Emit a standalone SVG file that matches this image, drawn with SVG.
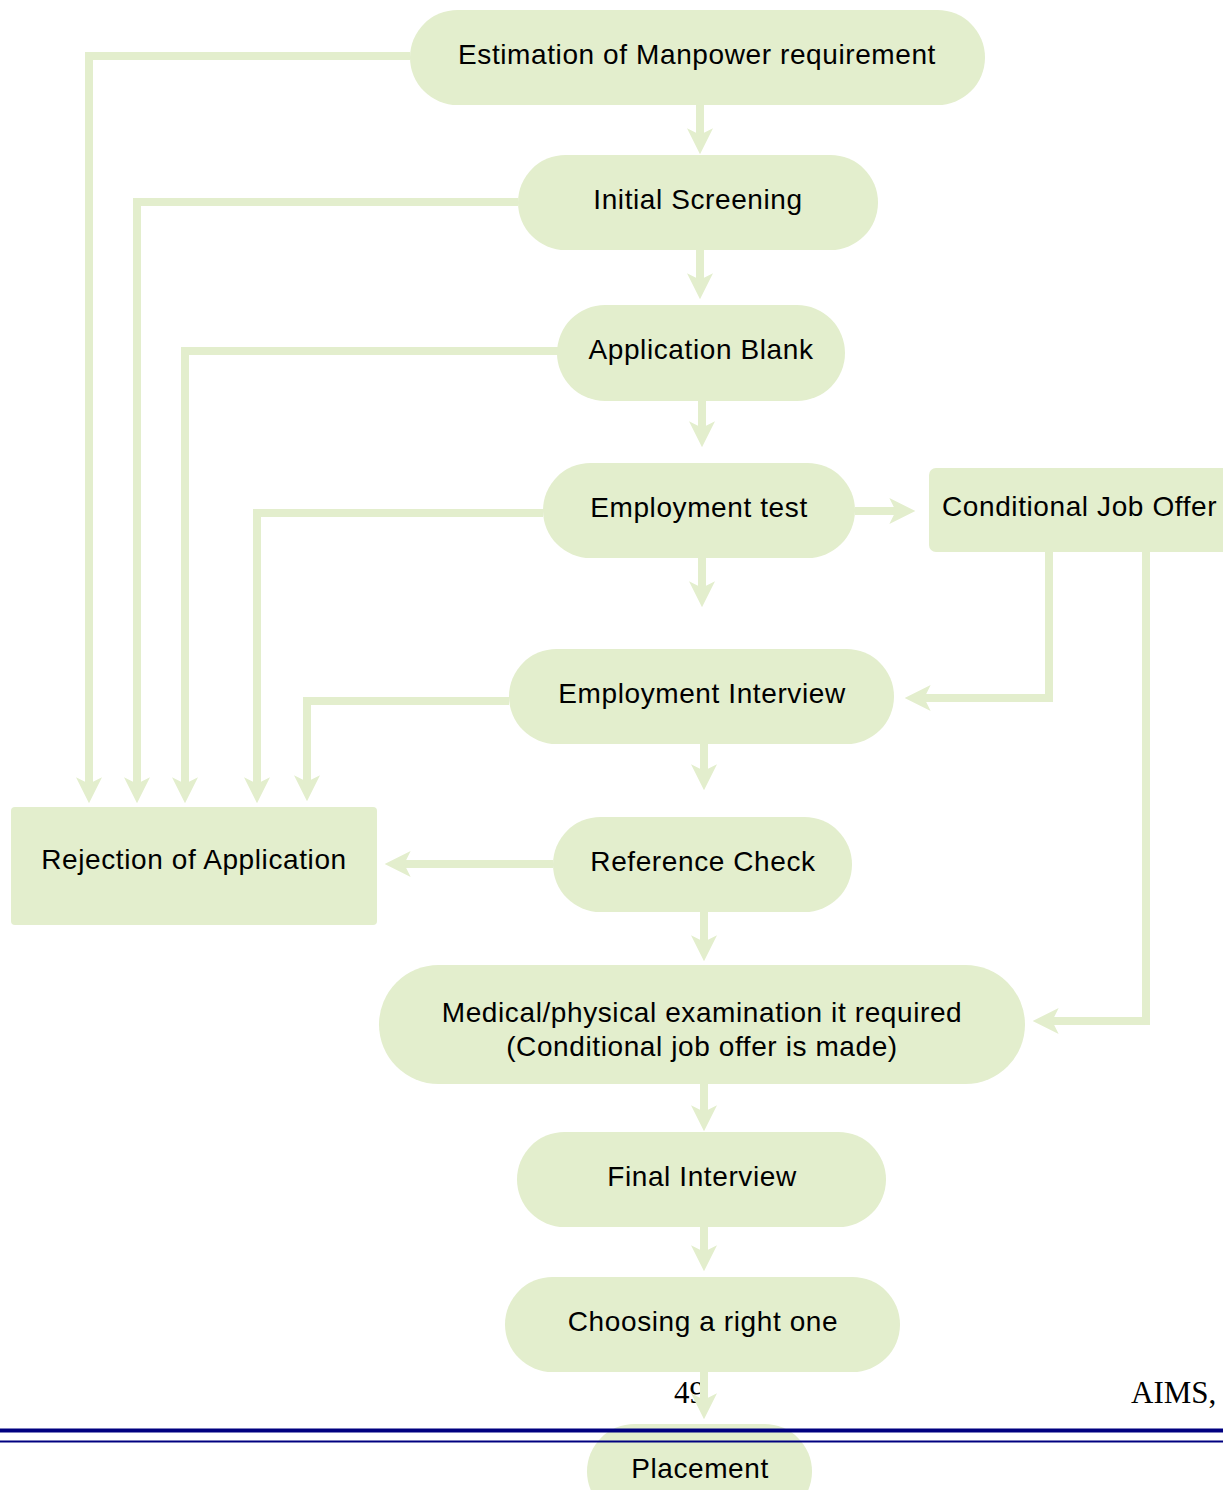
<svg xmlns="http://www.w3.org/2000/svg" width="1223" height="1490" viewBox="0 0 1223 1490">
  <style>
    .node { fill: #e3eecd; }
    .label { font-family: "Liberation Sans", Arial, sans-serif; font-size: 28px; letter-spacing: 0.6px; fill: #000; text-anchor: middle; }
    .flow { fill: none; stroke: #e3eecd; stroke-width: 8; stroke-linejoin: miter; marker-end: url(#head); }
    .page { font-family: "Liberation Serif", "Times New Roman", serif; font-size: 31px; fill: #000; }
    .rule { stroke: #000080; }
  </style>
  <defs>
    <!-- notched arrowhead; the line ends 16px before the tip -->
    <marker id="head" markerUnits="userSpaceOnUse" markerWidth="26" markerHeight="26" viewBox="0 0 24 24" refX="8" refY="12" orient="auto" overflow="visible">
      <path d="M0,0 L24,12 L0,24 L6,12 Z" fill="#e3eecd"/>
    </marker>
  </defs>

  <rect width="1223" height="1490" fill="#fff"/>

  <!-- footer page number sits beneath the connectors -->
  <text class="page" x="674" y="1403">49</text>
  <text class="page" x="1131" y="1403">AIMS,</text>

  <g id="node-estimation">
    <rect class="node" x="410" y="10" width="575" height="95" rx="47.5"/>
    <text class="label" x="697" y="64">Estimation of Manpower requirement</text>
  </g>
  <g id="node-initial-screening">
    <rect class="node" x="518" y="155" width="360" height="95" rx="47.5"/>
    <text class="label" x="698" y="209">Initial Screening</text>
  </g>
  <g id="node-application-blank">
    <rect class="node" x="557" y="305" width="288" height="96" rx="48"/>
    <text class="label" x="701" y="359">Application Blank</text>
  </g>
  <g id="node-employment-test">
    <rect class="node" x="543" y="463" width="312" height="95" rx="47.5"/>
    <text class="label" x="699" y="517">Employment test</text>
  </g>
  <g id="node-conditional-offer">
    <rect class="node" x="929" y="468" width="300" height="84" rx="7"/>
    <text class="label" x="942" y="516" style="text-anchor:start">Conditional Job Offer</text>
  </g>
  <g id="node-employment-interview">
    <rect class="node" x="509" y="649" width="385" height="95" rx="47.5"/>
    <text class="label" x="702" y="703">Employment Interview</text>
  </g>
  <g id="node-rejection">
    <rect class="node" x="11" y="807" width="366" height="118" rx="4"/>
    <text class="label" x="194" y="869">Rejection of Application</text>
  </g>
  <g id="node-reference-check">
    <rect class="node" x="553" y="817" width="299" height="95" rx="47.5"/>
    <text class="label" x="703" y="871">Reference Check</text>
  </g>
  <g id="node-medical">
    <rect class="node" x="379" y="965" width="646" height="119" rx="59.5"/>
    <text class="label" x="702" y="1022">Medical/physical examination it required</text>
    <text class="label" x="702" y="1056">(Conditional job offer is made)</text>
  </g>
  <g id="node-final-interview">
    <rect class="node" x="517" y="1132" width="369" height="95" rx="47.5"/>
    <text class="label" x="702" y="1186">Final Interview</text>
  </g>
  <g id="node-choosing">
    <rect class="node" x="505" y="1277" width="395" height="95" rx="47.5"/>
    <text class="label" x="703" y="1331">Choosing a right one</text>
  </g>
  <g id="node-placement">
    <rect class="node" x="587" y="1424" width="225" height="95" rx="47.5"/>
    <text class="label" x="700" y="1478">Placement</text>
  </g>

  <g id="connectors">
    <!-- main downward chain -->
    <path class="flow" d="M700,105 V137"/>
    <path class="flow" d="M700,250 V282"/>
    <path class="flow" d="M702,401 V430"/>
    <path class="flow" d="M702,558 V590"/>
    <path class="flow" d="M704,744 V773"/>
    <path class="flow" d="M704,912 V944"/>
    <path class="flow" d="M704,1084 V1114"/>
    <path class="flow" d="M704,1227 V1254"/>
    <path class="flow" d="M704,1372 V1402"/>
    <!-- rejection feeds -->
    <path class="flow" d="M410,56 H89 V786"/>
    <path class="flow" d="M518,202 H137 V786"/>
    <path class="flow" d="M560,351 H185 V786"/>
    <path class="flow" d="M543,513 H257 V786"/>
    <path class="flow" d="M509,701 H307 V784"/>
    <path class="flow" d="M553,864 H402"/>
    <!-- conditional job offer branch -->
    <path class="flow" d="M855,511 H898"/>
    <path class="flow" d="M1049,552 V698 H922"/>
    <path class="flow" d="M1146,552 V1021 H1050"/>
  </g>

  <!-- page rules -->
  <line class="rule" x1="0" y1="1430.5" x2="1223" y2="1430.5" stroke-width="4"/>
  <line class="rule" x1="0" y1="1441.5" x2="1223" y2="1441.5" stroke-width="2"/>
</svg>
